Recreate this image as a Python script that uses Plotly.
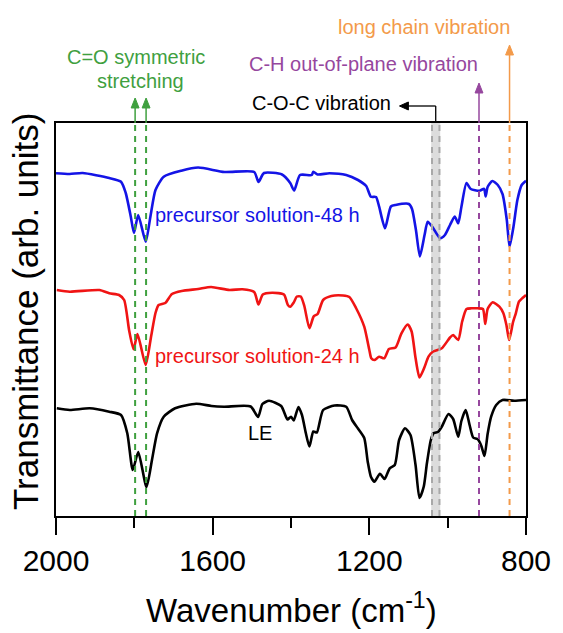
import plotly.graph_objects as go

# FTIR spectra, wavenumber (cm-1) vs transmittance (arb. units, stacked)
wn_48h = [2000, 1965, 1932, 1864, 1834, 1822, 1809, 1801, 1790, 1771, 1759, 1746, 1725, 1680, 1637,
          1570, 1494, 1483, 1469, 1423, 1402, 1392, 1377, 1347, 1343, 1332, 1302, 1259, 1229, 1208,
          1196, 1183, 1175, 1160, 1145, 1133, 1099, 1091, 1081, 1071, 1059, 1051, 1038, 1019, 1007,
          994, 982, 973, 965, 952, 941, 919, 907, 903, 898, 886, 872, 860, 849, 842,
          832, 826, 822, 811, 800]
t_48h = [342.7, 342, 343, 338, 334.3, 323, 299.3, 283, 301, 274.3, 299.3, 326, 339.3, 345.3, 348.5,
         344, 344, 334, 343, 341.5, 333, 325.5, 341, 341, 344.3, 341.5, 342.7, 341, 336, 330,
         319.3, 319, 309.3, 287.7, 309.5, 311, 312, 307, 286, 259.5, 281, 294.3, 288.5, 277.7, 281,
         291, 299.5, 292.7, 309, 333, 327, 325.2, 327.2, 319.5, 329, 335, 331, 322, 296, 269.3,
         289.3, 306, 316, 331, 335.3]

wn_24h = [1998, 1965, 1889, 1864, 1839, 1826, 1813, 1802, 1792, 1771, 1757, 1746, 1738, 1721, 1704,
          1679, 1637, 1604, 1557, 1524, 1494, 1483, 1472, 1448, 1418, 1408, 1402, 1393, 1385, 1375,
          1366, 1353, 1342, 1332, 1318, 1297, 1267, 1251, 1234, 1213, 1200, 1195, 1187, 1175, 1162,
          1150, 1133, 1118, 1102, 1092, 1082, 1072, 1060, 1049, 1038, 1015, 994, 986, 973, 963,
          952, 939, 923, 910, 904, 898, 885, 868, 858, 850, 843, 833, 826, 818, 809, 800]
t_24h = [226, 224.3, 226, 222.7, 221, 216, 185, 166.7, 182, 151, 180, 203, 211, 213, 222,
         225, 227, 229, 226, 226.7, 224, 211.5, 221.5, 223.3, 221.5, 211, 209.3, 213.5, 219.5, 219.5,
         210, 187.7, 199.7, 202, 216, 220, 220.5, 219, 208, 189.3, 166, 157.7, 156, 159.3, 157.7,
         167, 168.5, 182.7, 191.5, 184.5, 158, 138.5, 148, 159.3, 164.3, 167.7, 178.5, 181, 176, 194.5,
         207, 207.7, 207.7, 207, 192, 207, 213.8, 209.3, 203, 191, 176, 194, 202.7, 214.3, 218, 221]

wn_le = [1998, 1965, 1914, 1864, 1834, 1818, 1804, 1790, 1769, 1755, 1742, 1725, 1696, 1642, 1603,
         1571, 1503, 1484, 1473, 1456, 1425, 1409, 1400, 1393, 1381, 1372, 1362, 1353, 1343, 1334,
         1318, 1289, 1259, 1244, 1229, 1213, 1204, 1196, 1187, 1173, 1161, 1148, 1135, 1124, 1109,
         1095, 1082, 1072, 1061, 1053, 1043, 1036, 1024, 1015, 998, 986, 973, 965, 954, 944,
         935, 923, 914, 906, 898, 889, 876, 860, 830, 800]
t_le = [107.7, 106, 107.7, 104.3, 101, 82.7, 46, 64, 29, 56, 82.7, 99.3, 107.7, 112.3, 110,
        109.3, 109.5, 99, 112, 115.2, 110, 96.5, 99.3, 95.5, 109, 101, 82.7, 69.5, 84.5, 83.5,
        106, 110.5, 109.3, 96, 87.5, 78, 54, 39.3, 34.3, 42.3, 37, 47.7, 51, 76, 87.7,
        81, 51, 18, 29.5, 52.7, 76, 82.7, 84.3, 89.3, 102, 97, 79.3, 95, 106, 91,
        78.5, 76.7, 70, 60, 82, 99.3, 111, 116, 115.3, 116]

# band positions (cm-1)
co_sym = [1798, 1770]
coc_band = [1042, 1019]
coc_edges = [1040, 1021]
ch_oop = 920
long_chain = 842

tick_vals = [2000, 1600, 1200, 800]
tick_text = ["2000", "1600", "1200", "800"]

X_RANGE = [2000, 800]
Y_RANGE = [0, 393]

FONT = "Arial, Liberation Sans, sans-serif"
BLUE = "#1414E6"
RED = "#F01414"
GREEN = "#3FA03F"
PURPLE = "#96479E"
ORANGE = "#F39A4A"
GRAY = "#A8A8A8"

# plot-area size in px (used to express pixel offsets in paper units)
PW, PH = 476.0, 393.0
ML, MR, MT, MB = 56, 31, 123, 117


def fx(wn):
    """paper x of a wavenumber on the reversed axis"""
    return (X_RANGE[0] - wn) / (X_RANGE[0] - X_RANGE[1])


def fy(px_above_top):
    """paper y of a point px_above_top pixels above the frame top"""
    return 1 + px_above_top / PH


fig = go.Figure()
for wn, t, col in [(wn_48h, t_48h, BLUE), (wn_24h, t_24h, RED), (wn_le, t_le, "black")]:
    fig.add_trace(go.Scatter(x=wn, y=t, mode="lines",
                             line=dict(color=col, width=2.6, shape="spline", smoothing=0.6),
                             showlegend=False, hoverinfo="skip"))

# shaded C-O-C band
fig.add_shape(type="rect", xref="x", yref="paper", x0=coc_band[0], x1=coc_band[1], y0=0, y1=1,
              fillcolor="#DCDCDC", line=dict(width=0), layer="below")

dash = "6px,5px"
guides = [(v, GREEN) for v in co_sym] + [(v, GRAY) for v in coc_edges] + \
         [(ch_oop, PURPLE), (long_chain, ORANGE)]
for xv, col in guides:
    fig.add_shape(type="line", xref="x", yref="paper", x0=xv, x1=xv, y0=0, y1=1,
                  line=dict(color=col, width=2, dash=dash), layer="above")


def up_arrow(wn, tip_px, col):
    """solid shaft from the frame top to an upward arrowhead tip_px above it"""
    x = fx(wn)
    head_len, half_w = 10, 4
    fig.add_shape(type="line", xref="paper", yref="paper", x0=x, x1=x,
                  y0=1, y1=fy(tip_px - head_len + 1), line=dict(color=col, width=1.5))
    path = "M {:.5f} {:.5f} L {:.5f} {:.5f} L {:.5f} {:.5f} Z".format(
        x - half_w / PW, fy(tip_px - head_len), x, fy(tip_px), x + half_w / PW, fy(tip_px - head_len))
    fig.add_shape(type="path", xref="paper", yref="paper", path=path,
                  fillcolor=col, line=dict(color=col, width=1))


for v in co_sym:
    up_arrow(v, 25, GREEN)
up_arrow(ch_oop, 40, PURPLE)
up_arrow(long_chain, 78, ORANGE)

# elbow pointer from the C-O-C band to its label
coc_mid = sum(coc_band) / 2
elbow_y = fy(17)
tip_x = fx(1123)
fig.add_shape(type="line", xref="paper", yref="paper", x0=fx(coc_mid), x1=fx(coc_mid),
              y0=1, y1=elbow_y, line=dict(color="black", width=1.3))
fig.add_shape(type="line", xref="paper", yref="paper", x0=fx(coc_mid), x1=tip_x + 8 / PW,
              y0=elbow_y, y1=elbow_y, line=dict(color="black", width=1.3))
fig.add_shape(type="path", xref="paper", yref="paper",
              path="M {:.5f} {:.5f} L {:.5f} {:.5f} L {:.5f} {:.5f} Z".format(
                  tip_x + 9 / PW, elbow_y + 4 / PH, tip_x, elbow_y, tip_x + 9 / PW, elbow_y - 4 / PH),
              fillcolor="black", line=dict(color="black", width=1))


def label(text, x, y, col, size=20, xref="x", yref="paper", **kw):
    kw.setdefault("xanchor", "center")
    fig.add_annotation(x=x, xref=xref, y=y, yref=yref, text=text, showarrow=False,
                       yanchor="middle", font=dict(family=FONT, size=size, color=col), **kw)


# band labels
label("long chain vibration", 1061, fy(96), ORANGE)
label("C-H out-of-plane vibration", 1215, fy(59), PURPLE)
label("C=O symmetric", 1796, fy(66), GREEN)
label("stretching", 1783, fy(42), GREEN)
label("C-O-C vibration", 1322, fy(20), "black")

# spectrum labels
label("precursor solution-48 h", 1752, 301, BLUE, yref="y", xanchor="left")
label("precursor solution-24 h", 1752, 160, RED, yref="y", xanchor="left")
label("LE", 1478, 83, "black", yref="y")

# axis titles
label("Wavenumber (cm<sup>-1</sup>)", 0.5, -92 / PH, "black", size=33, xref="paper")
label("Transmittance (arb. units)", -31 / PW, 0.52, "black", size=35, xref="paper", textangle=-90)

fig.update_xaxes(range=X_RANGE, tickvals=tick_vals, ticktext=tick_text,
                 ticks="outside", ticklen=17, tickwidth=2, tickcolor="black",
                 minor=dict(ticks="outside", ticklen=10, tickwidth=2, tickcolor="black", dtick=200,
                            tick0=2000, showgrid=False),
                 showline=True, linewidth=2, linecolor="black", mirror=True,
                 showgrid=False, zeroline=False,
                 tickfont=dict(family=FONT, size=30, color="black"))
fig.update_yaxes(range=Y_RANGE, showticklabels=False, ticks="", showline=True, linewidth=2,
                 linecolor="black", mirror=True, showgrid=False, zeroline=False)

fig.update_layout(width=563, height=633, margin=dict(l=ML, r=MR, t=MT, b=MB),
                  plot_bgcolor="white", paper_bgcolor="white", showlegend=False)

fig.write_html("out.html")
